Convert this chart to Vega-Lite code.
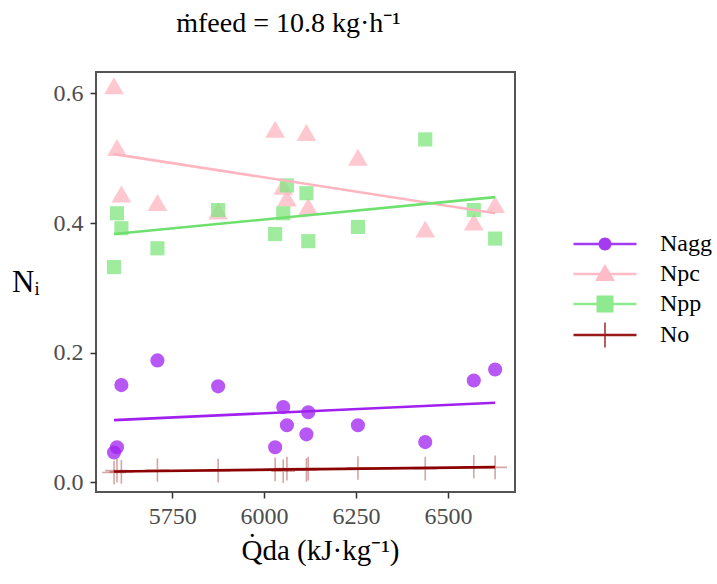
{
  "$schema": "https://vega.github.io/schema/vega-lite/v6.json",
  "width": 419,
  "height": 420,
  "padding": {"left": 11, "top": 10, "right": 5, "bottom": 5},
  "background": "white",
  "title": {
    "text": "ṁfeed = 10.8 kg·h⁻¹",
    "font": "Liberation Serif, Times New Roman, serif",
    "fontSize": 28,
    "fontWeight": "normal",
    "color": "black",
    "anchor": "middle",
    "dx": -17,
    "offset": 34
  },
  "config": {
    "view": {"stroke": "#555555", "strokeWidth": 2},
    "title": {"font": "Liberation Serif, Times New Roman, serif"},
    "text": {"font": "Liberation Serif, Times New Roman, serif"},
    "axis": {
      "grid": false,
      "domain": false,
      "labelFont": "Liberation Serif, Times New Roman, serif",
      "labelFontSize": 24,
      "labelColor": "#4D4D4D",
      "tickColor": "#333333",
      "tickWidth": 1.5,
      "tickSize": 6,
      "titleFont": "Liberation Serif, Times New Roman, serif",
      "titleFontWeight": "normal",
      "titleColor": "black"
    },
    "legend": {
      "labelFont": "Liberation Serif, Times New Roman, serif"
    }
  },
  "data": {
    "values": [
      {"Q": 5592, "series": "Nagg", "N": 0.046},
      {"Q": 5600, "series": "Nagg", "N": 0.054},
      {"Q": 5612, "series": "Nagg", "N": 0.150},
      {"Q": 5710, "series": "Nagg", "N": 0.188},
      {"Q": 5875, "series": "Nagg", "N": 0.148},
      {"Q": 6030, "series": "Nagg", "N": 0.054},
      {"Q": 6052, "series": "Nagg", "N": 0.116},
      {"Q": 6062, "series": "Nagg", "N": 0.088},
      {"Q": 6115, "series": "Nagg", "N": 0.074},
      {"Q": 6120, "series": "Nagg", "N": 0.108},
      {"Q": 6255, "series": "Nagg", "N": 0.088},
      {"Q": 6438, "series": "Nagg", "N": 0.062},
      {"Q": 6570, "series": "Nagg", "N": 0.157},
      {"Q": 6628, "series": "Nagg", "N": 0.174},
      {"Q": 5592, "series": "Npc", "N": 0.610},
      {"Q": 5600, "series": "Npc", "N": 0.515},
      {"Q": 5612, "series": "Npc", "N": 0.443},
      {"Q": 5710, "series": "Npc", "N": 0.430},
      {"Q": 5875, "series": "Npc", "N": 0.417},
      {"Q": 6030, "series": "Npc", "N": 0.543},
      {"Q": 6052, "series": "Npc", "N": 0.455},
      {"Q": 6062, "series": "Npc", "N": 0.437},
      {"Q": 6115, "series": "Npc", "N": 0.538},
      {"Q": 6120, "series": "Npc", "N": 0.424},
      {"Q": 6255, "series": "Npc", "N": 0.500},
      {"Q": 6438, "series": "Npc", "N": 0.389},
      {"Q": 6570, "series": "Npc", "N": 0.400},
      {"Q": 6628, "series": "Npc", "N": 0.427},
      {"Q": 5592, "series": "Npp", "N": 0.332},
      {"Q": 5600, "series": "Npp", "N": 0.415},
      {"Q": 5612, "series": "Npp", "N": 0.392},
      {"Q": 5710, "series": "Npp", "N": 0.361},
      {"Q": 5875, "series": "Npp", "N": 0.420},
      {"Q": 6030, "series": "Npp", "N": 0.383},
      {"Q": 6052, "series": "Npp", "N": 0.415},
      {"Q": 6062, "series": "Npp", "N": 0.458},
      {"Q": 6115, "series": "Npp", "N": 0.446},
      {"Q": 6120, "series": "Npp", "N": 0.372},
      {"Q": 6255, "series": "Npp", "N": 0.394},
      {"Q": 6438, "series": "Npp", "N": 0.529},
      {"Q": 6570, "series": "Npp", "N": 0.420},
      {"Q": 6628, "series": "Npp", "N": 0.376},
      {"Q": 5592, "series": "No", "N": 0.015},
      {"Q": 5600, "series": "No", "N": 0.018},
      {"Q": 5612, "series": "No", "N": 0.016},
      {"Q": 5710, "series": "No", "N": 0.019},
      {"Q": 5875, "series": "No", "N": 0.018},
      {"Q": 6030, "series": "No", "N": 0.020},
      {"Q": 6052, "series": "No", "N": 0.017},
      {"Q": 6062, "series": "No", "N": 0.021},
      {"Q": 6115, "series": "No", "N": 0.019},
      {"Q": 6120, "series": "No", "N": 0.021},
      {"Q": 6255, "series": "No", "N": 0.022},
      {"Q": 6438, "series": "No", "N": 0.021},
      {"Q": 6570, "series": "No", "N": 0.024},
      {"Q": 6628, "series": "No", "N": 0.023}
    ]
  },
  "encoding": {
    "x": {
      "field": "Q", "type": "quantitative",
      "scale": {"domain": [5543, 6682], "nice": false, "zero": false},
      "axis": {"values": [5750, 6000, 6250, 6500], "format": "d", "title": "Q̇da (kJ·kg⁻¹)", "titleFontSize": 29, "titleX": 224, "labelPadding": 6, "titlePadding": 8}
    },
    "y": {
      "field": "N", "type": "quantitative",
      "scale": {"domain": [-0.015, 0.633], "nice": false, "zero": false},
      "axis": {"values": [0, 0.2, 0.4, 0.6], "format": ".1f", "title": "Nᵢ", "titleFontSize": 31, "titleAngle": 0, "titleAlign": "right", "titleBaseline": "middle", "titlePadding": 14, "labelPadding": 7}
    }
  },
  "layer": [
    {
      "transform": [{"filter": "datum.series != 'No'"}],
      "mark": {"type": "point", "filled": true, "opacity": 0.75, "size": 200},
      "encoding": {
        "color": {"field": "series", "type": "nominal", "sort": null,
          "scale": {"domain": ["Nagg", "Npc", "Npp", "No"], "range": ["#A020F0", "#FFB6C1", "#7FE57F", "#8B0000"]},
          "legend": null},
        "shape": {"field": "series", "type": "nominal",
          "scale": {"domain": ["Nagg", "Npc", "Npp", "No"], "range": ["circle", "M0,-1.35L1.4,1.05L-1.4,1.05Z", "square", "cross"]},
          "legend": null}
      }
    },
    {
      "transform": [{"filter": "datum.series == 'No'"}],
      "mark": {"type": "point", "filled": false, "opacity": 0.35, "size": 560, "strokeWidth": 1.6, "shape": "M0,-1V1M-1,0H1", "color": "#8B0000"},
      "encoding": {}
    },
    {
      "transform": [{"regression": "N", "on": "Q", "groupby": ["series"]}],
      "mark": {"type": "line", "strokeWidth": 2.6},
      "encoding": {
        "color": {"field": "series", "type": "nominal",
          "scale": {"domain": ["Nagg", "Npc", "Npp", "No"], "range": ["#A020F0", "#FFB6C1", "#6EE06E", "#8B0000"]},
          "legend": null}
      }
    },
    {
      "data": {"values": []},
      "mark": {"type": "point", "filled": true, "opacity": 1, "size": 400},
      "encoding": {
        "x": null,
        "y": null,
        "color": {"field": "series", "type": "nominal",
          "scale": {"domain": ["Nagg", "Npc", "Npp", "No"], "range": ["#A43BF0", "#FFBCC6", "#8EEA8E", "#9A1A1A"]},
          "legend": {"title": null, "orient": "none", "legendX": 497, "legendY": 160, "labelFont": "Liberation Serif, Times New Roman, serif", "labelFontSize": 24, "labelColor": "black", "labelOffset": 43, "symbolSize": 400, "symbolStrokeWidth": 0, "rowPadding": 6, "padding": 0}},
        "shape": {"field": "series", "type": "nominal",
          "scale": {"domain": ["Nagg", "Npc", "Npp", "No"], "range": [
            "M-3.15,-0.12H3.15V0.12H-3.15Z M0.65,0A0.65,0.65 0 1,1 -0.65,0A0.65,0.65 0 1,1 0.65,0Z",
            "M-3.15,-0.12H3.15V0.12H-3.15Z M0,-1L1,0.7L-1,0.7Z",
            "M-3.15,-0.12H3.15V0.12H-3.15Z M-0.85,-0.85H0.85V0.85H-0.85Z",
            "M-3.15,-0.12H3.15V0.12H-3.15Z M-0.07,-1.25H0.07V1.25H-0.07Z"
          ]},
          "legend": {"title": null, "orient": "none", "legendX": 497, "legendY": 160, "labelFont": "Liberation Serif, Times New Roman, serif", "labelFontSize": 24, "labelColor": "black", "labelOffset": 43, "symbolSize": 400, "symbolStrokeWidth": 0, "rowPadding": 6, "padding": 0}}
      }
    }
  ],
  "resolve": {
    "scale": {"color": "independent", "shape": "independent"},
    "legend": {"color": "independent", "shape": "independent"}
  }
}
